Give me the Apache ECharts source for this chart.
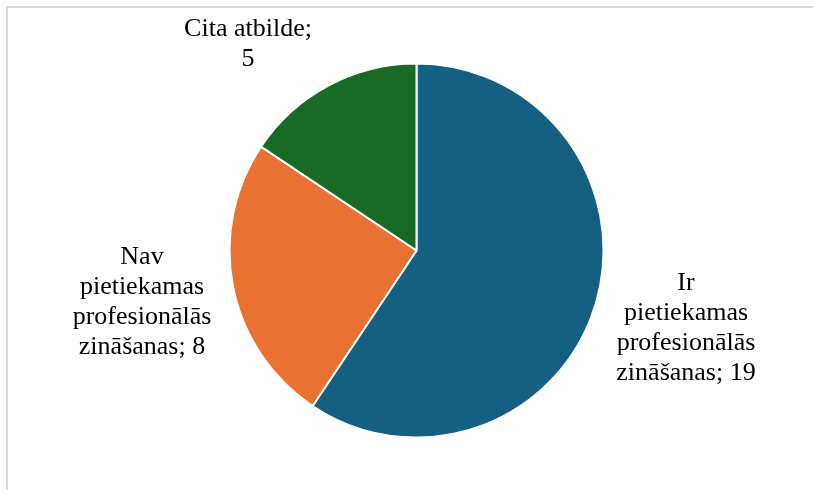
<!DOCTYPE html>
<html>
<head>
<meta charset="utf-8">
<script src="https://cdn.jsdelivr.net/npm/echarts@6/dist/echarts.min.js"></script>
<style>
html,body{margin:0;padding:0;background:#fff;}
#chart{width:813px;height:490px;}
</style>
</head>
<body>
<div id="chart"></div>
<script>
const categories = ['Ir\npietiekamas\nprofesionālās\nzināšanas', 'Nav\npietiekamas\nprofesionālās\nzināšanas', 'Cita atbilde'];
const values = [19, 8, 5];
const colors = ['#155F82', '#E97132', '#196B24'];
const labelSeparators = ['; ', '; ', ';\n'];
const labelCenters = [[686, 328], [142, 302], [248, 44]];

const chart = echarts.init(document.getElementById('chart'), null, {renderer: 'canvas'});
chart.setOption({
  animation: false,
  graphic: [{
    type: 'rect',
    shape: {x: 7, y: 7, width: 900, height: 600},
    style: {fill: 'none', stroke: '#d9d9d9', lineWidth: 2},
    silent: true
  }],
  series: [{
    type: 'pie',
    center: [416.5, 250.5],
    radius: 187,
    startAngle: 90,
    clockwise: true,
    data: categories.map((c, i) => ({name: c, value: values[i], itemStyle: {color: colors[i]}})),
    itemStyle: {borderColor: '#ffffff', borderWidth: 2},
    label: {
      show: true,
      position: 'outside',
      formatter: p => p.name + labelSeparators[p.dataIndex] + p.value,
      fontFamily: 'Liberation Serif',
      fontSize: 26,
      lineHeight: 30,
      color: '#000000',
      align: 'center'
    },
    labelLine: {show: false},
    labelLayout: function (params) {
      const c = labelCenters[params.dataIndex];
      return {x: c[0], y: c[1], align: 'center', verticalAlign: 'middle'};
    },
    emphasis: {disabled: true}
  }]
});
</script>
</body>
</html>
